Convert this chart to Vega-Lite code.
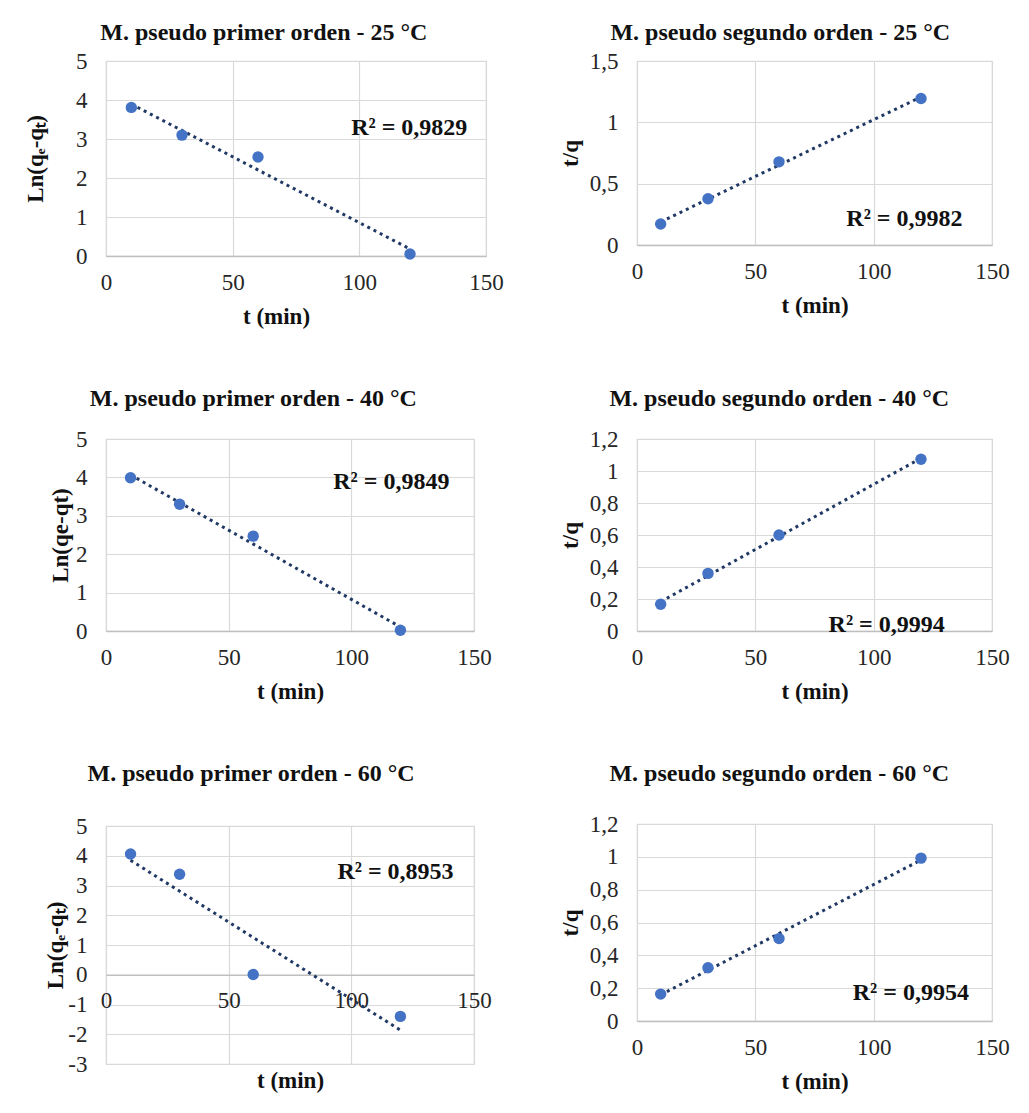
{
  "$schema": "https://vega.github.io/schema/vega-lite/v6.json",
  "background": "white",
  "padding": {"left": 23, "top": 20, "right": 5, "bottom": 5},
  "columns": 2,
  "spacing": {"row": 56, "column": 54},
  "bounds": "full",
  "align": "none",
  "config": {
    "font": "Liberation Serif",
    "view": {"stroke": "#d9d9d9", "strokeWidth": 1.2},
    "title": {"font": "Liberation Serif", "fontSize": 24, "fontWeight": "bold", "color": "#111111", "anchor": "middle", "frame": "bounds"},
    "axis": {
      "ticks": false, "tickSize": 0, "grid": true, "gridColor": "#d9d9d9", "gridWidth": 1.2,
      "labelFont": "Liberation Serif", "labelFontSize": 23, "labelColor": "#262626",
      "labelFlush": false, "labelOverlap": false, "labelBound": false,
      "titleFont": "Liberation Serif", "titleFontSize": 23, "titleFontWeight": "bold", "titleColor": "#111111"
    },
    "axisX": {"domainColor": "#bfbfbf", "domainWidth": 1.5, "labelPadding": 15, "titlePadding": 11},
    "axisY": {"domain": false, "labelPadding": 19, "labelExpr": "replace(replace(format(datum.value, '~g'), '.', ','), '−', '-')"}
  },
  "datasets": {
    "p1": [{"t": 10, "v": 3.81}, {"t": 30, "v": 3.1}, {"t": 60, "v": 2.54}, {"t": 120, "v": 0.05}],
    "p2": [{"t": 10, "v": 0.171}, {"t": 30, "v": 0.377}, {"t": 60, "v": 0.678}, {"t": 120, "v": 1.194}],
    "p3": [{"t": 10, "v": 3.99}, {"t": 30, "v": 3.3}, {"t": 60, "v": 2.47}, {"t": 120, "v": 0.02}],
    "p4": [{"t": 10, "v": 0.167}, {"t": 30, "v": 0.36}, {"t": 60, "v": 0.6}, {"t": 120, "v": 1.073}],
    "p5": [{"t": 10, "v": 4.06}, {"t": 30, "v": 3.38}, {"t": 60, "v": 0.01}, {"t": 120, "v": -1.4}],
    "p6": [{"t": 10, "v": 0.164}, {"t": 30, "v": 0.324}, {"t": 60, "v": 0.502}, {"t": 120, "v": 0.992}]
  },
  "concat": [
    {
      "width": 380, "height": 195,
      "title": {"text": "M. pseudo primer orden - 25 °C", "offset": 5},
      "layer": [
        {"data": {"name": "p1"}, "transform": [{"regression": "v", "on": "t"}],
         "mark": {"type": "line", "color": "#203864", "strokeWidth": 3, "strokeDash": [3, 4]},
         "encoding": {
           "x": {"field": "t", "type": "quantitative", "title": "t (min)", "scale": {"domain": [0, 150], "nice": false}, "axis": {"values": [0, 50, 100, 150], "labelOverlap": false, "titleX": 170}},
           "y": {"field": "v", "type": "quantitative", "title": "Ln(qₑ-qₜ)", "scale": {"domain": [0, 5], "nice": false}, "axis": {"values": [0, 1, 2, 3, 4, 5], "labelOverlap": false, "titlePadding": 28}}}},
        {"data": {"name": "p1"}, "mark": {"type": "circle", "color": "#4472C4", "size": 130, "opacity": 1},
         "encoding": {
           "x": {"field": "t", "type": "quantitative", "title": "t (min)", "axis": {"values": [0, 50, 100, 150], "labelOverlap": false, "titleX": 170}},
           "y": {"field": "v", "type": "quantitative", "title": "Ln(qₑ-qₜ)", "axis": {"values": [0, 1, 2, 3, 4, 5], "labelOverlap": false, "titlePadding": 28}}}},
        {"data": {"values": [{"r2": "R² = 0,9829"}]},
         "mark": {"type": "text", "font": "Liberation Serif", "fontSize": 24, "fontWeight": "bold", "color": "#111111"},
         "encoding": {"text": {"field": "r2", "type": "nominal"},
           "x": {"datum": 119.7, "type": "quantitative", "title": "t (min)", "axis": {"values": [0, 50, 100, 150], "labelOverlap": false, "titleX": 170}},
           "y": {"datum": 3.29, "type": "quantitative", "title": "Ln(qₑ-qₜ)", "axis": {"values": [0, 1, 2, 3, 4, 5], "labelOverlap": false, "titlePadding": 28}}}}
      ]
    },
    {
      "width": 355, "height": 184,
      "title": {"text": "M. pseudo segundo orden - 25 °C", "offset": 5, "dx": -4},
      "layer": [
        {"data": {"name": "p2"}, "transform": [{"regression": "v", "on": "t"}],
         "mark": {"type": "line", "color": "#203864", "strokeWidth": 3, "strokeDash": [3, 4]},
         "encoding": {
           "x": {"field": "t", "type": "quantitative", "title": "t (min)", "scale": {"domain": [0, 150], "nice": false}, "axis": {"values": [0, 50, 100, 150], "labelOverlap": false}},
           "y": {"field": "v", "type": "quantitative", "title": "t/q", "scale": {"domain": [0, 1.5], "nice": false}, "axis": {"values": [0, 0.5, 1, 1.5], "labelOverlap": false, "titlePadding": 7}}}},
        {"data": {"name": "p2"}, "mark": {"type": "circle", "color": "#4472C4", "size": 130, "opacity": 1},
         "encoding": {
           "x": {"field": "t", "type": "quantitative", "title": "t (min)", "axis": {"values": [0, 50, 100, 150], "labelOverlap": false}},
           "y": {"field": "v", "type": "quantitative", "title": "t/q", "axis": {"values": [0, 0.5, 1, 1.5], "labelOverlap": false, "titlePadding": 7}}}},
        {"data": {"values": [{"r2": "R² = 0,9982"}]},
         "mark": {"type": "text", "font": "Liberation Serif", "fontSize": 24, "fontWeight": "bold", "color": "#111111"},
         "encoding": {"text": {"field": "r2", "type": "nominal"},
           "x": {"datum": 113, "type": "quantitative", "title": "t (min)", "axis": {"values": [0, 50, 100, 150], "labelOverlap": false}},
           "y": {"datum": 0.212, "type": "quantitative", "title": "t/q", "axis": {"values": [0, 0.5, 1, 1.5], "labelOverlap": false, "titlePadding": 7}}}}
      ]
    },
    {
      "width": 368, "height": 192,
      "title": {"text": "M. pseudo primer orden - 40 °C", "offset": 17.5, "dx": -17},
      "layer": [
        {"data": {"name": "p3"}, "transform": [{"regression": "v", "on": "t"}],
         "mark": {"type": "line", "color": "#203864", "strokeWidth": 3, "strokeDash": [3, 4]},
         "encoding": {
           "x": {"field": "t", "type": "quantitative", "title": "t (min)", "scale": {"domain": [0, 150], "nice": false}, "axis": {"values": [0, 50, 100, 150], "labelOverlap": false}},
           "y": {"field": "v", "type": "quantitative", "title": "Ln(qe-qt)", "scale": {"domain": [0, 5], "nice": false}, "axis": {"values": [0, 1, 2, 3, 4, 5], "labelOverlap": false, "titlePadding": 3}}}},
        {"data": {"name": "p3"}, "mark": {"type": "circle", "color": "#4472C4", "size": 130, "opacity": 1},
         "encoding": {
           "x": {"field": "t", "type": "quantitative", "title": "t (min)", "axis": {"values": [0, 50, 100, 150], "labelOverlap": false}},
           "y": {"field": "v", "type": "quantitative", "title": "Ln(qe-qt)", "axis": {"values": [0, 1, 2, 3, 4, 5], "labelOverlap": false, "titlePadding": 3}}}},
        {"data": {"values": [{"r2": "R² = 0,9849"}]},
         "mark": {"type": "text", "font": "Liberation Serif", "fontSize": 24, "fontWeight": "bold", "color": "#111111"},
         "encoding": {"text": {"field": "r2", "type": "nominal"},
           "x": {"datum": 116.3, "type": "quantitative", "title": "t (min)", "axis": {"values": [0, 50, 100, 150], "labelOverlap": false}},
           "y": {"datum": 3.87, "type": "quantitative", "title": "Ln(qe-qt)", "axis": {"values": [0, 1, 2, 3, 4, 5], "labelOverlap": false, "titlePadding": 3}}}}
      ]
    },
    {
      "width": 355, "height": 192,
      "title": {"text": "M. pseudo segundo orden - 40 °C", "offset": 17.5, "dx": -5},
      "layer": [
        {"data": {"name": "p4"}, "transform": [{"regression": "v", "on": "t"}],
         "mark": {"type": "line", "color": "#203864", "strokeWidth": 3, "strokeDash": [3, 4]},
         "encoding": {
           "x": {"field": "t", "type": "quantitative", "title": "t (min)", "scale": {"domain": [0, 150], "nice": false}, "axis": {"values": [0, 50, 100, 150], "labelOverlap": false}},
           "y": {"field": "v", "type": "quantitative", "title": "t/q", "scale": {"domain": [0, 1.2], "nice": false}, "axis": {"values": [0, 0.2, 0.4, 0.6, 0.8, 1, 1.2], "labelOverlap": false, "titlePadding": 7}}}},
        {"data": {"name": "p4"}, "mark": {"type": "circle", "color": "#4472C4", "size": 130, "opacity": 1},
         "encoding": {
           "x": {"field": "t", "type": "quantitative", "title": "t (min)", "axis": {"values": [0, 50, 100, 150], "labelOverlap": false}},
           "y": {"field": "v", "type": "quantitative", "title": "t/q", "axis": {"values": [0, 0.2, 0.4, 0.6, 0.8, 1, 1.2], "labelOverlap": false, "titlePadding": 7}}}},
        {"data": {"values": [{"r2": "R² = 0,9994"}]},
         "mark": {"type": "text", "font": "Liberation Serif", "fontSize": 24, "fontWeight": "bold", "color": "#111111"},
         "encoding": {"text": {"field": "r2", "type": "nominal"},
           "x": {"datum": 105.5, "type": "quantitative", "title": "t (min)", "axis": {"values": [0, 50, 100, 150], "labelOverlap": false}},
           "y": {"datum": 0.0375, "type": "quantitative", "title": "t/q", "axis": {"values": [0, 0.2, 0.4, 0.6, 0.8, 1, 1.2], "labelOverlap": false, "titlePadding": 7}}}}
      ]
    },
    {
      "width": 368, "height": 238,
      "title": {"text": "M. pseudo primer orden - 60 °C", "offset": 29.5, "dx": -17},
      "layer": [
        {"data": {"name": "p5"}, "transform": [{"regression": "v", "on": "t"}],
         "mark": {"type": "line", "color": "#203864", "strokeWidth": 3, "strokeDash": [3, 4]},
         "encoding": {
           "x": {"field": "t", "type": "quantitative", "title": "t (min)", "scale": {"domain": [0, 150], "nice": false}, "axis": {"values": [0, 50, 100, 150], "labelOverlap": false, "offset": -89.25, "titlePadding": 57}},
           "y": {"field": "v", "type": "quantitative", "title": "Ln(qₑ-qₜ)", "scale": {"domain": [-3, 5], "nice": false}, "axis": {"values": [-3, -2, -1, 0, 1, 2, 3, 4, 5], "labelOverlap": false, "titlePadding": 0}}}},
        {"data": {"name": "p5"}, "mark": {"type": "circle", "color": "#4472C4", "size": 130, "opacity": 1},
         "encoding": {
           "x": {"field": "t", "type": "quantitative", "title": "t (min)", "axis": {"values": [0, 50, 100, 150], "labelOverlap": false, "offset": -89.25, "titlePadding": 57}},
           "y": {"field": "v", "type": "quantitative", "title": "Ln(qₑ-qₜ)", "axis": {"values": [-3, -2, -1, 0, 1, 2, 3, 4, 5], "labelOverlap": false, "titlePadding": 0}}}},
        {"data": {"values": [{"r2": "R² = 0,8953"}]},
         "mark": {"type": "text", "font": "Liberation Serif", "fontSize": 24, "fontWeight": "bold", "color": "#111111"},
         "encoding": {"text": {"field": "r2", "type": "nominal"},
           "x": {"datum": 118, "type": "quantitative", "title": "t (min)", "axis": {"values": [0, 50, 100, 150], "labelOverlap": false, "offset": -89.25, "titlePadding": 57}},
           "y": {"datum": 3.46, "type": "quantitative", "title": "Ln(qₑ-qₜ)", "axis": {"values": [-3, -2, -1, 0, 1, 2, 3, 4, 5], "labelOverlap": false, "titlePadding": 0}}}}
      ]
    },
    {
      "width": 355, "height": 197,
      "title": {"text": "M. pseudo segundo orden - 60 °C", "offset": 27.5, "dx": -5},
      "layer": [
        {"data": {"name": "p6"}, "transform": [{"regression": "v", "on": "t"}],
         "mark": {"type": "line", "color": "#203864", "strokeWidth": 3, "strokeDash": [3, 4]},
         "encoding": {
           "x": {"field": "t", "type": "quantitative", "title": "t (min)", "scale": {"domain": [0, 150], "nice": false}, "axis": {"values": [0, 50, 100, 150], "labelOverlap": false}},
           "y": {"field": "v", "type": "quantitative", "title": "t/q", "scale": {"domain": [0, 1.2], "nice": false}, "axis": {"values": [0, 0.2, 0.4, 0.6, 0.8, 1, 1.2], "labelOverlap": false, "titlePadding": 7}}}},
        {"data": {"name": "p6"}, "mark": {"type": "circle", "color": "#4472C4", "size": 130, "opacity": 1},
         "encoding": {
           "x": {"field": "t", "type": "quantitative", "title": "t (min)", "axis": {"values": [0, 50, 100, 150], "labelOverlap": false}},
           "y": {"field": "v", "type": "quantitative", "title": "t/q", "axis": {"values": [0, 0.2, 0.4, 0.6, 0.8, 1, 1.2], "labelOverlap": false, "titlePadding": 7}}}},
        {"data": {"values": [{"r2": "R² = 0,9954"}]},
         "mark": {"type": "text", "font": "Liberation Serif", "fontSize": 24, "fontWeight": "bold", "color": "#111111"},
         "encoding": {"text": {"field": "r2", "type": "nominal"},
           "x": {"datum": 115.7, "type": "quantitative", "title": "t (min)", "axis": {"values": [0, 50, 100, 150], "labelOverlap": false}},
           "y": {"datum": 0.168, "type": "quantitative", "title": "t/q", "axis": {"values": [0, 0.2, 0.4, 0.6, 0.8, 1, 1.2], "labelOverlap": false, "titlePadding": 7}}}}
      ]
    }
  ]
}
